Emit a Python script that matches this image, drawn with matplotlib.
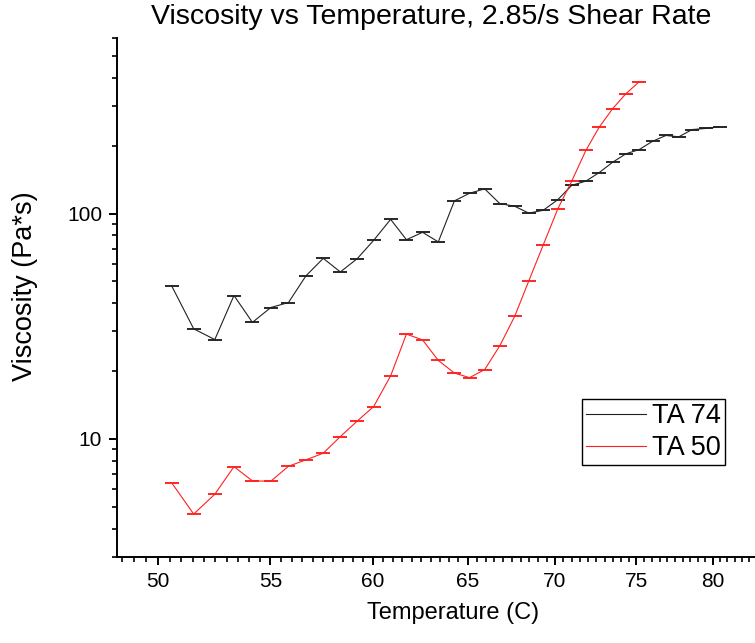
import matplotlib
matplotlib.use("Agg")
import matplotlib.pyplot as plt
from matplotlib.ticker import MultipleLocator, FormatStrFormatter, LogLocator, NullFormatter, FixedLocator

plt.rcParams['font.family'] = ['Liberation Sans', 'DejaVu Sans']

# temperature readings (C) for each run
temp_74 = [50.6, 51.54, 52.47, 53.33, 54.17, 55.02, 55.85, 56.68, 57.52, 58.36,
           59.2, 60.03, 60.9, 61.72, 62.57, 63.41, 64.28, 65.11, 65.95, 66.8,
           67.65, 68.46, 69.3, 70.16, 71.0, 71.86, 72.67, 73.5, 74.33, 75.18,
           76.04, 76.9, 77.74, 78.63, 79.53, 80.48]
visc_74 = [47.5, 30.8, 27.6, 43.3, 32.9, 38.3, 40.3, 52.9, 63.3, 55.1,
           63.1, 76.1, 94.3, 76.6, 82.6, 74.9, 113.9, 123.1, 128.8, 110.8,
           107.8, 100.5, 103.4, 115.2, 133.5, 139.4, 152.1, 169.0, 184.2, 192.5,
           209.6, 222.2, 219.2, 236.2, 238.7, 242.8]
err_74 = [0.0] * len(visc_74)

temp_50 = temp_74[:30]
visc_50 = [6.36, 4.64, 5.68, 7.53, 6.51, 6.49, 7.56, 8.07, 8.64, 10.24,
           12.0, 13.92, 19.05, 29.2, 27.5, 22.3, 19.6, 18.7, 20.3, 25.9,
           35.0, 50.2, 72.4, 104.7, 139.4, 191.1, 241.8, 292.0, 340.4, 384.9]
err_50 = [0.0] * len(visc_50)

x_ticks = [50, 55, 60, 65, 70, 75, 80]
y_ticks = [10, 100]

fig = plt.figure(figsize=(7.55, 6.43), dpi=100)
ax = fig.add_axes([117.3 / 755, 86.3 / 643, (789 - 117.3) / 755, 518.4 / 643])

c74 = ax.errorbar(temp_74, visc_74, yerr=err_74, color='#222222', lw=0.8,
                  capsize=5, capthick=1.1, elinewidth=0.8)
c50 = ax.errorbar(temp_50, visc_50, yerr=err_50, color='#ff2020', lw=0.8,
                  capsize=5, capthick=1.1, elinewidth=0.8)

ax.set_xscale('log')
ax.set_yscale('log')
ax.set_xlim(48.31, 85.35)
ax.set_ylim(3, 600)

ax.xaxis.set_major_locator(FixedLocator(x_ticks))
ax.xaxis.set_minor_locator(MultipleLocator(0.5))
ax.xaxis.set_major_formatter(FormatStrFormatter('%d'))
ax.xaxis.set_minor_formatter(NullFormatter())
ax.yaxis.set_major_locator(FixedLocator(y_ticks))
ax.yaxis.set_major_formatter(FormatStrFormatter('%d'))
ax.yaxis.set_minor_locator(LogLocator(base=10, subs=range(2, 10)))
ax.yaxis.set_minor_formatter(NullFormatter())

for side in ['top', 'right']:
    ax.spines[side].set_visible(False)
for side in ['left', 'bottom']:
    ax.spines[side].set_linewidth(1.4)
ax.tick_params(which='major', direction='out', length=6, width=1.4, labelsize=15, pad=5)
ax.tick_params(which='minor', direction='out', length=3.3, width=1.2)

ax.set_xlabel('Temperature (C)', fontsize=17, labelpad=8)
fig.text(25 / 755, 1 - 286 / 643, 'Viscosity (Pa*s)', fontsize=19.5,
         rotation=90, ha='center', va='center')
fig.text(431 / 755, 1 - 17 / 643, 'Viscosity vs Temperature, 2.85/s Shear Rate',
         fontsize=20.5, ha='center', va='center')

leg = ax.legend([c74.lines[0], c50.lines[0]], ['TA 74', 'TA 50'],
                loc='upper left', bbox_to_anchor=(582 / 755, 1 - 399 / 643),
                bbox_transform=fig.transFigure, borderaxespad=0, fontsize=19.5,
                fancybox=False, framealpha=1, edgecolor='black',
                handlelength=2.2, handletextpad=0.25, borderpad=0.15,
                labelspacing=0.22)
leg.get_frame().set_linewidth(1.0)

fig.savefig('out.png', dpi=100)
